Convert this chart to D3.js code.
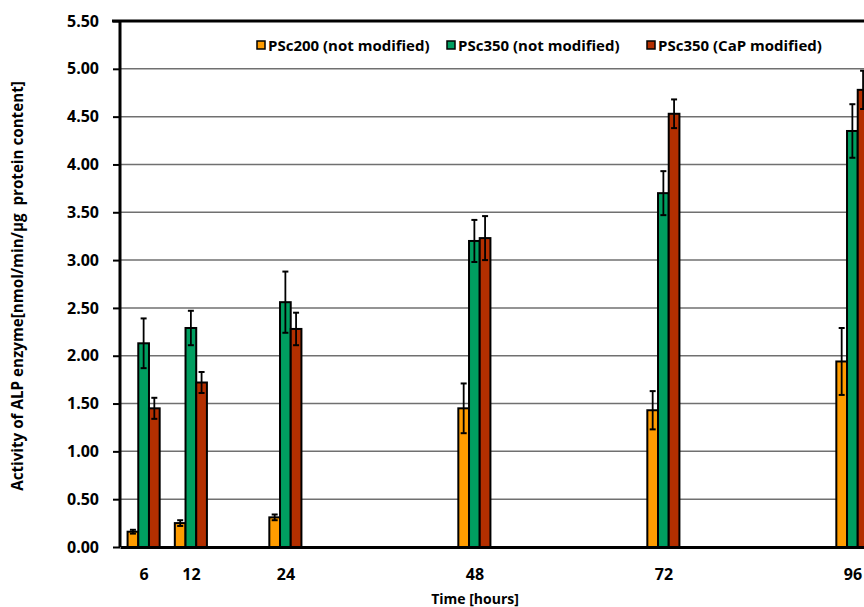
<!DOCTYPE html>
<html>
<head>
<meta charset="utf-8">
<script src="https://cdn.jsdelivr.net/npm/d3@7"></script>
<style>
  body { margin: 0; background: #fff; overflow: hidden; }
  svg { display: block; font-family: "Open Sans", Lato, sans-serif; font-weight: bold; }
</style>
</head>
<body>
<script>
let w = 864;
let h = 607;

// chart data
let times = [6, 12, 24, 48, 72, 96];
let seriesNames = ["PSc200 (not modified)", "PSc350 (not modified)", "PSc350 (CaP modified)"];
let seriesColors = ["#FF9C00", "#009E60", "#B32F00"];
let psc200 = [0.16, 0.25, 0.31, 1.45, 1.43, 1.94];
let psc200Err = [0.02, 0.03, 0.03, 0.26, 0.20, 0.35];
let psc350 = [2.13, 2.29, 2.56, 3.20, 3.70, 4.35];
let psc350Err = [0.26, 0.18, 0.32, 0.22, 0.23, 0.28];
let psc350CaP = [1.45, 1.72, 2.28, 3.23, 4.53, 4.78];
let psc350CaPErr = [0.11, 0.11, 0.17, 0.23, 0.15, 0.20];
let yTicks = [0, 0.5, 1, 1.5, 2, 2.5, 3, 3.5, 4, 4.5, 5, 5.5];

let series = [
  { name: seriesNames[0], color: seriesColors[0], values: psc200, errs: psc200Err },
  { name: seriesNames[1], color: seriesColors[1], values: psc350, errs: psc350Err },
  { name: seriesNames[2], color: seriesColors[2], values: psc350CaP, errs: psc350CaPErr }
];

let pLeft = 120, pRight = 876, pTop = 21, pBottom = 547;
let barW = 10.7;

let xScale = d3.scaleLinear().domain([3, 99]).range([pLeft, pRight]);
let yScale = d3.scaleLinear().domain([0, 5.5]).range([pBottom, pTop]);

let svg = d3.select("body").append("svg")
  .attr("width", w)
  .attr("height", h);

// gridlines
svg.append("g")
  .selectAll("line")
  .data(yTicks.filter(d => d > 0 && d < 5.5))
  .enter()
  .append("line")
  .attr("x1", pLeft)
  .attr("x2", pRight)
  .attr("y1", d => yScale(d))
  .attr("y2", d => yScale(d))
  .attr("stroke", "#707070")
  .attr("stroke-width", 1.5);

// bars
series.forEach(function(s, si) {
  let g = svg.append("g");
  let cx = (d, i) => xScale(times[i]) + (si - 1) * barW;
  g.selectAll("rect")
    .data(s.values)
    .enter()
    .append("rect")
    .attr("x", (d, i) => cx(d, i) - barW / 2)
    .attr("y", d => yScale(d))
    .attr("width", barW)
    .attr("height", d => yScale(0) - yScale(d))
    .attr("fill", s.color)
    .attr("stroke", "#000")
    .attr("stroke-width", 2);

  // error bars
  let eb = g.selectAll(".err")
    .data(s.values)
    .enter()
    .append("g");
  eb.append("line")
    .attr("x1", cx).attr("x2", cx)
    .attr("y1", (d, i) => yScale(d + s.errs[i]))
    .attr("y2", (d, i) => yScale(d - s.errs[i]))
    .attr("stroke", "#000").attr("stroke-width", 1.8);
  [1, -1].forEach(function(sign) {
    eb.append("line")
      .attr("x1", (d, i) => cx(d, i) - 3)
      .attr("x2", (d, i) => cx(d, i) + 3)
      .attr("y1", (d, i) => yScale(d + sign * s.errs[i]))
      .attr("y2", (d, i) => yScale(d + sign * s.errs[i]))
      .attr("stroke", "#000").attr("stroke-width", 2);
  });
});

// axes
let yAxis = d3.axisLeft(yScale).tickValues(yTicks).tickFormat(d3.format(".2f")).tickSize(7).tickPadding(14);
let gy = svg.append("g")
  .attr("transform", "translate(" + pLeft + ",0)")
  .call(yAxis);
gy.select(".domain").attr("stroke-width", 3).attr("d", "M0," + pTop + "V" + pBottom);
gy.selectAll(".tick line").attr("stroke-width", 2);
gy.selectAll("text").style("font-size", "16px").style("font-family", "'Open Sans', sans-serif").attr("fill", "#000");

let xAxis = d3.axisBottom(xScale).tickValues(times).tickSize(0).tickPadding(22);
let gx = svg.append("g")
  .attr("transform", "translate(0," + pBottom + ")")
  .call(xAxis);
gx.select(".domain").attr("stroke-width", 3);
gx.selectAll("text").style("font-size", "16px").style("font-family", "'Open Sans', sans-serif").attr("fill", "#000");

// top border
svg.append("line")
  .attr("x1", pLeft - 8).attr("x2", pRight)
  .attr("y1", pTop).attr("y2", pTop)
  .attr("stroke", "#000").attr("stroke-width", 3);

// axis titles
svg.append("text")
  .attr("x", 475)
  .attr("y", 604)
  .attr("text-anchor", "middle")
  .style("font-size", "14px")
  .text("Time [hours]");

svg.append("text")
  .attr("transform", "translate(23," + 286 + ") rotate(-90)")
  .attr("text-anchor", "middle")
  .style("font-size", "15.2px")
  .style("white-space", "pre")
  .text("Activity of ALP enzyme[nmol/min/\u00b5g  protein content]");

// legend
let legendX = [261, 451, 651];
let legend = svg.append("g").selectAll("g")
  .data(series)
  .enter()
  .append("g")
  .attr("transform", (d, i) => "translate(" + legendX[i] + ",45)");
legend.append("rect")
  .attr("x", -4).attr("y", -4)
  .attr("width", 8).attr("height", 8)
  .attr("fill", d => d.color)
  .attr("stroke", "#000")
  .attr("stroke-width", 1.5);
legend.append("text")
  .attr("x", 7)
  .attr("y", 5.5)
  .style("font-size", "15px")
  .text(d => d.name);
</script>
</body>
</html>
